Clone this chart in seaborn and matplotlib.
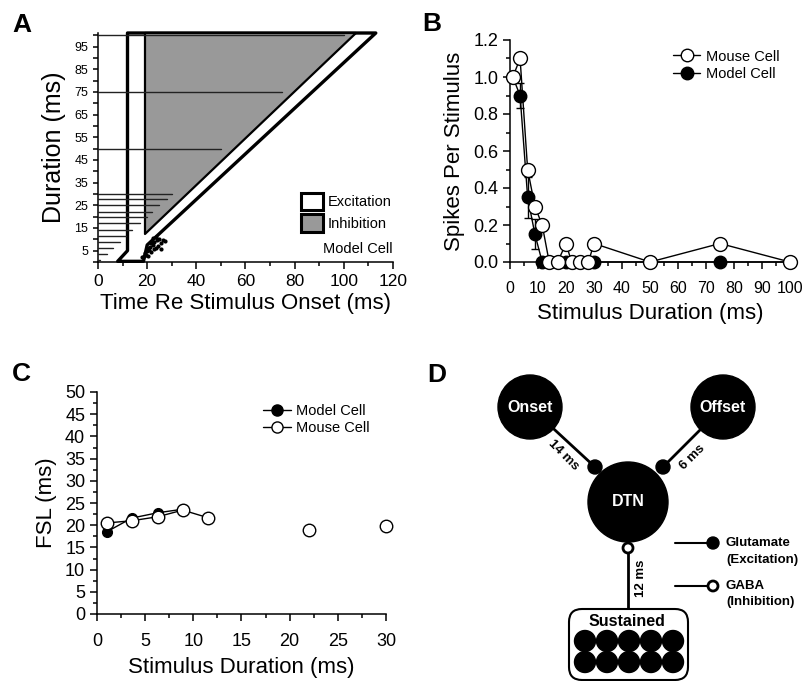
import numpy as np
import matplotlib
matplotlib.use("Agg")
import matplotlib.pyplot as plt
from matplotlib.patches import Polygon, Circle, FancyBboxPatch, Patch
from matplotlib.lines import Line2D
from matplotlib.ticker import MultipleLocator
import seaborn as sns

sns.set_style("ticks")
plt.rcParams["font.family"] = ["Liberation Sans", "DejaVu Sans"]
plt.rcParams["axes.linewidth"] = 1.1
for key in ["text.color", "axes.labelcolor", "xtick.color", "ytick.color", "axes.edgecolor"]:
    plt.rcParams[key] = "black"

# ---------------- data ----------------
# stimulus durations (ms)
durations = [1, 3.6, 6.3, 8.9, 11.5, 14, 17, 20, 22, 25, 28, 30, 50, 75, 100]

# panel B: spikes per stimulus
mouse_spikes = [1.0, 1.1, 0.5, 0.3, 0.2, 0, 0, 0.1, 0, 0, 0, 0.1, 0, 0.1, 0]
model_spikes = [1.0, 0.9, 0.35, 0.15, 0, 0, 0, 0, 0, 0, 0, 0, 0, 0, 0]
model_spikes_err = [0, 0.07, 0.11, 0.08, 0, 0, 0, 0, 0, 0, 0, 0, 0, 0, 0]

# panel C: first spike latency (ms)
fsl_durations = [1, 3.6, 6.3, 8.9, 11.5, 14, 17, 20, 22, 25, 28, 30]
mouse_fsl = [20.5, 21.0, 21.9, 23.4, 21.7, np.nan, np.nan, np.nan, 18.9, np.nan, np.nan, 19.8]
model_fsl = [18.5, 21.6, 22.8, 23.6, np.nan, np.nan, np.nan, np.nan, np.nan, np.nan, np.nan, np.nan]

# panel A: model spike raster (time re onset, duration row)
raster_time = [17.8, 18.6, 19.4, 20.2, 19.2, 20.0, 20.8, 21.6, 22.6, 20.4, 21.2, 22.2,
               23.4, 24.6, 25.8, 21.4, 22.8, 24.2, 25.6, 27.2, 22.2, 23.6, 24.8, 26.4]
raster_dur = [2.2, 2.8, 3.2, 2.6, 4.0, 4.8, 5.2, 4.4, 5.6, 6.0, 6.8, 7.4,
              6.2, 7.0, 5.8, 8.2, 8.8, 9.6, 8.4, 9.2, 10.4, 11.0, 10.2, 9.8]

# panel A: excitation / inhibition windows (time, duration)
excitation_x = [8, 12, 12, 113, 20, 18.5]
excitation_y = [0.3, 5, 101, 101, 7.5, 0.3]
inhibition_x = [19, 19, 105]
inhibition_y = [12.5, 101, 101]

fig = plt.figure(figsize=(8.04, 6.81), dpi=100)
W, H = 804, 681


def add_ax(x0, y_top, x1, y_bot):
    return fig.add_axes([x0 / W, 1 - y_bot / H, (x1 - x0) / W, (y_bot - y_top) / H])


# ---------------- panel A ----------------
ax = add_ax(98, 33, 393, 262)
ax.add_patch(Polygon(list(zip(excitation_x, excitation_y)), closed=True, facecolor="white",
                     edgecolor="black", lw=2.4, joinstyle="round", clip_on=False, zorder=2))
ax.add_patch(Polygon(list(zip(inhibition_x, inhibition_y)), closed=True, facecolor="#999999",
                     edgecolor="black", lw=1.6, joinstyle="round", clip_on=False, zorder=3))
for d in durations:
    ax.plot([0, d], [d, d], color="#222222", lw=1.0, zorder=4, clip_on=False)
sns.scatterplot(x=raster_time, y=raster_dur, ax=ax, color="black", s=9, linewidth=0, zorder=5)
ax.set_xlim(0, 120)
ax.set_ylim(0, 101)
ax.xaxis.set_major_locator(MultipleLocator(20))
ax.xaxis.set_minor_locator(MultipleLocator(10))
ax.set_yticks([5, 15, 25, 35, 45, 55, 65, 75, 85, 95])
ax.yaxis.set_minor_locator(MultipleLocator(5))
ax.tick_params(axis="x", which="major", labelsize=12.5, length=5, width=1.1)
ax.tick_params(axis="x", which="minor", length=3, width=1.1)
ax.tick_params(axis="y", which="both", labelsize=9, length=3.5, width=1.1)
ax.set_xlabel("Time Re Stimulus Onset (ms)", fontsize=16, labelpad=3)
ax.set_ylabel("Duration (ms)", fontsize=18, labelpad=6)
leg_handles = [Patch(facecolor="white", edgecolor="black", lw=2.2, joinstyle="round", label="Excitation"),
               Patch(facecolor="#999999", edgecolor="black", lw=2.2, joinstyle="round", label="Inhibition")]
ax.legend(handles=leg_handles, loc="lower right", bbox_to_anchor=(1.02, 0.1), frameon=False,
          fontsize=10.5, handlelength=1.5, handleheight=1.5, handletextpad=0.35, labelspacing=0.25,
          borderpad=0)
ax.text(1.0, 0.025, "Model Cell", transform=ax.transAxes, ha="right", va="bottom", fontsize=10.5)
sns.despine(ax=ax)

# ---------------- panel B ----------------
ax = add_ax(510, 40, 790, 262)
sns.lineplot(x=durations, y=model_spikes, ax=ax, color="black", lw=1, marker="o", ms=9,
             mfc="black", mec="black", mew=1, clip_on=False, zorder=3)
ax.errorbar(durations, model_spikes, yerr=model_spikes_err, fmt="none", ecolor="black",
            elinewidth=1, capsize=3, zorder=2)
sns.lineplot(x=durations, y=mouse_spikes, ax=ax, color="black", lw=1, marker="o", ms=10,
             mfc="white", mec="black", mew=1, clip_on=False, zorder=4)
ax.set_xlim(0, 100)
ax.set_ylim(0, 1.2)
ax.xaxis.set_major_locator(MultipleLocator(10))
ax.xaxis.set_minor_locator(MultipleLocator(5))
ax.yaxis.set_major_locator(MultipleLocator(0.2))
ax.yaxis.set_minor_locator(MultipleLocator(0.1))
ax.yaxis.set_major_formatter(matplotlib.ticker.FormatStrFormatter("%.1f"))
ax.tick_params(axis="x", which="major", labelsize=11.5, length=5, width=1.1, pad=9)
ax.tick_params(axis="y", which="major", labelsize=13, length=5, width=1.1)
ax.tick_params(which="minor", length=3, width=1.1)
ax.set_xlabel("Stimulus Duration (ms)", fontsize=16, labelpad=5)
ax.set_ylabel("Spikes Per Stimulus", fontsize=16, labelpad=6)
handles = [Line2D([], [], color="black", lw=1, marker="o", ms=9, mfc="white", mec="black", label="Mouse Cell"),
           Line2D([], [], color="black", lw=1, marker="o", ms=9, mfc="black", mec="black", label="Model Cell")]
ax.legend(handles=handles, loc="upper right", bbox_to_anchor=(0.99, 0.99), frameon=False, fontsize=10.5,
          handlelength=1.9, handletextpad=0.4, labelspacing=0.25, borderpad=0)
sns.despine(ax=ax)

# ---------------- panel C ----------------
ax = add_ax(97, 392, 386, 614)
ax.plot(fsl_durations, model_fsl, color="black", lw=1, marker="o", ms=7, mfc="black", mec="black",
        clip_on=False, zorder=3)
ax.plot(fsl_durations, mouse_fsl, color="black", lw=1, marker="o", ms=9, mfc="white", mec="black",
        clip_on=False, zorder=4)
ax.set_xlim(0, 30)
ax.set_ylim(0, 50)
ax.xaxis.set_major_locator(MultipleLocator(5))
ax.xaxis.set_minor_locator(MultipleLocator(2.5))
ax.yaxis.set_major_locator(MultipleLocator(5))
ax.yaxis.set_minor_locator(MultipleLocator(2.5))
ax.tick_params(which="major", labelsize=13, length=5, width=1.1)
ax.tick_params(axis="x", which="major", pad=9)
ax.tick_params(which="minor", length=3, width=1.1)
ax.set_xlabel("Stimulus Duration (ms)", fontsize=16, labelpad=5)
ax.set_ylabel("FSL (ms)", fontsize=16, labelpad=6)
handles = [Line2D([], [], color="black", lw=1, marker="o", ms=8, mfc="black", mec="black", label="Model Cell"),
           Line2D([], [], color="black", lw=1, marker="o", ms=8, mfc="white", mec="black", label="Mouse Cell")]
ax.legend(handles=handles, loc="upper right", bbox_to_anchor=(0.97, 0.98), frameon=False, fontsize=10.5,
          handlelength=1.9, handletextpad=0.4, labelspacing=0.25, borderpad=0)
sns.despine(ax=ax)

# ---------------- panel D (circuit diagram) ----------------
node_names = ["Onset", "Offset", "DTN"]
node_x = [530, 723, 628]
node_y = [407, 407, 502]
node_r = [32, 32, 40]
syn_x = [595, 663]
syn_y = [467, 467]
delay_labels = ["14 ms", "6 ms", "12 ms"]

ax = add_ax(400, 330, 804, 681)
ax.set_xlim(400, 804)
ax.set_ylim(681, 330)
ax.axis("off")
for sx, sy, nx, ny in zip(syn_x, syn_y, node_x[:2], node_y[:2]):
    ax.plot([nx, sx], [ny, sy], color="black", lw=2, zorder=1)
    ax.add_patch(Circle((sx, sy), 7, color="black", zorder=3))
for name, x, y, r in zip(node_names, node_x, node_y, node_r):
    ax.add_patch(Circle((x, y), r, color="black", zorder=2))
    ax.text(x, y, name, color="white", fontsize=11.5, fontweight="bold", ha="center", va="center", zorder=4)
ax.plot([628, 628], [550, 609], color="black", lw=2, zorder=1)
ax.add_patch(Circle((628, 548), 5, facecolor="white", edgecolor="black", lw=2, zorder=3))
ax.text(563, 455, delay_labels[0], rotation=-45, fontsize=9.5, fontweight="bold", ha="center", va="center")
ax.text(692, 457, delay_labels[1], rotation=45, fontsize=9.5, fontweight="bold", ha="center", va="center")
ax.text(641, 578, delay_labels[2], rotation=90, fontsize=9.5, fontweight="bold", ha="center", va="center")
ax.add_patch(FancyBboxPatch((569, 609), 119, 71, boxstyle="round,pad=0,rounding_size=13",
                            facecolor="white", edgecolor="black", lw=1.5, zorder=2))
ax.text(627, 621, "Sustained", fontsize=11.5, fontweight="bold", ha="center", va="center", zorder=3)
for cy in [641, 662]:
    for cx in [585, 607, 629, 651, 673]:
        ax.add_patch(Circle((cx, cy), 10.5, color="black", zorder=3))
# synapse legend
ax.plot([675, 712], [543, 543], color="black", lw=1.5)
ax.add_patch(Circle((713, 543), 6, color="black", zorder=3))
ax.text(726, 543, "Glutamate", fontsize=9.5, fontweight="bold", va="center")
ax.text(726, 560, "(Excitation)", fontsize=9.5, fontweight="bold", va="center")
ax.plot([675, 708], [586, 586], color="black", lw=1.5)
ax.add_patch(Circle((713, 586), 5, facecolor="white", edgecolor="black", lw=2, zorder=3))
ax.text(726, 586, "GABA", fontsize=9.5, fontweight="bold", va="center")
ax.text(726, 602, "(Inhibition)", fontsize=9.5, fontweight="bold", va="center")

# panel letters
for letter, x, y in [("A", 12, 13), ("B", 422, 12), ("C", 12, 362), ("D", 427, 363)]:
    fig.text(x / W, 1 - y / H, letter, fontsize=19, fontweight="bold", ha="left", va="top")

fig.savefig("out.png", dpi=100)
